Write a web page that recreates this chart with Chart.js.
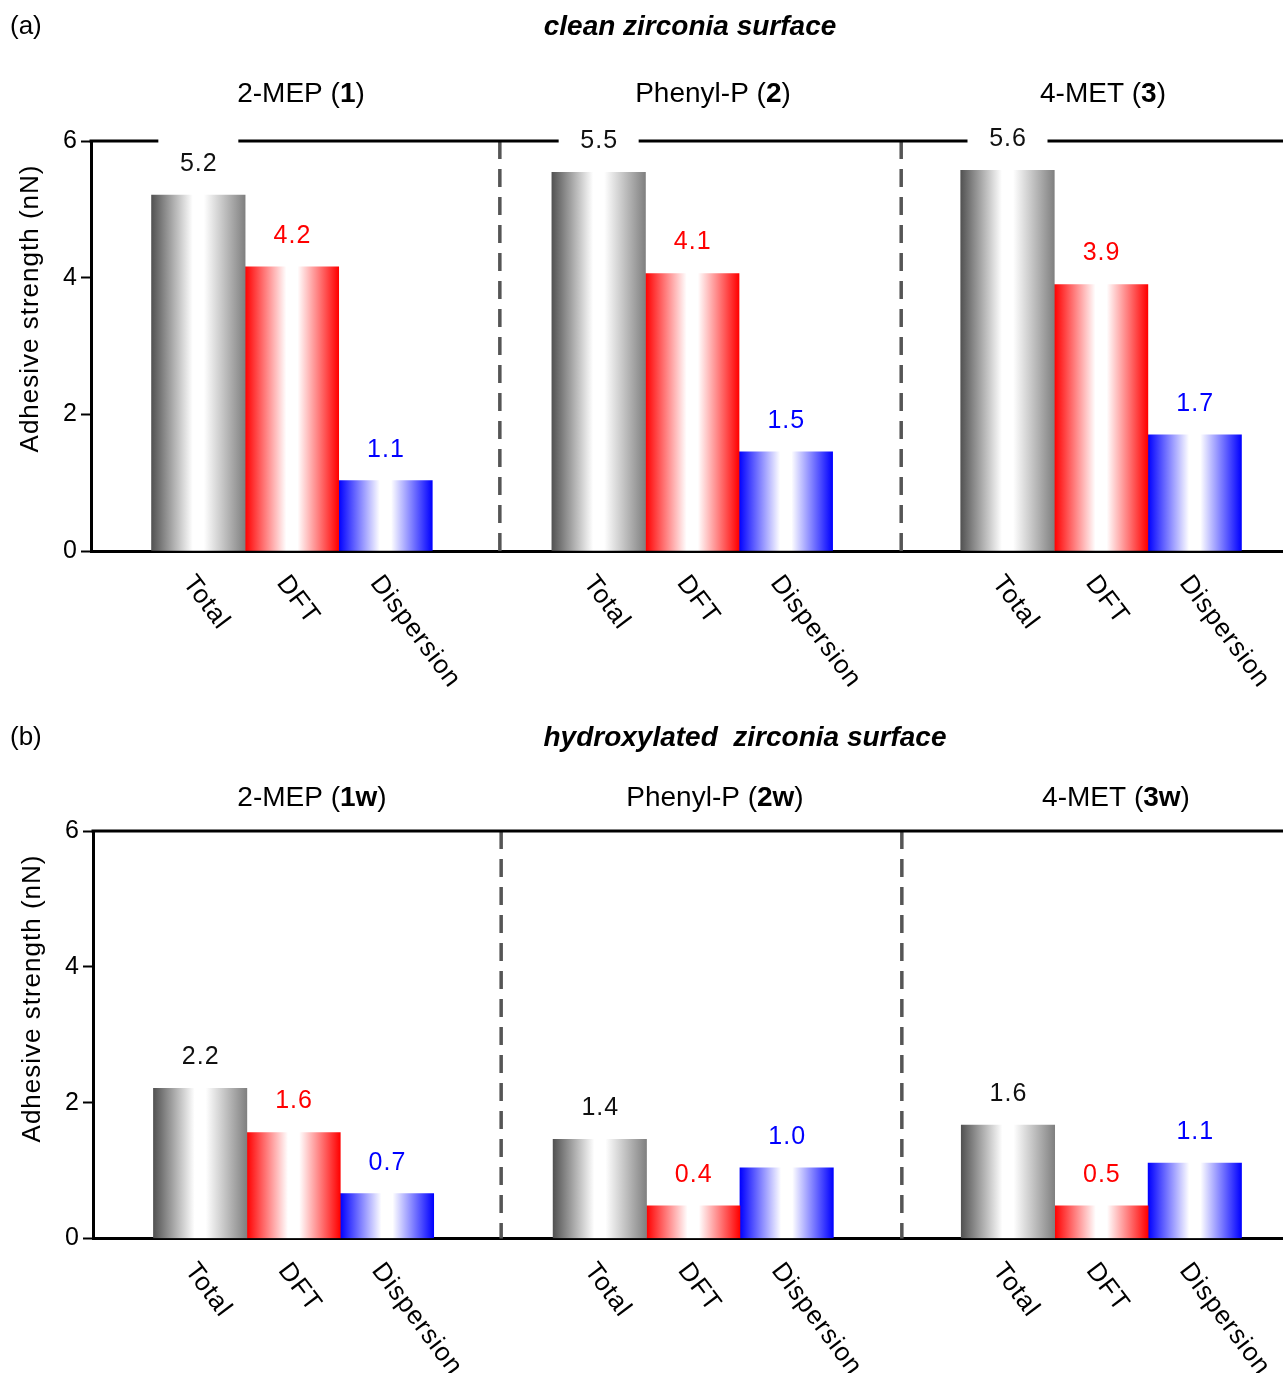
<!DOCTYPE html>
<html><head><meta charset="utf-8">
<script src="https://cdn.jsdelivr.net/npm/chart.js@4.4.1/dist/chart.umd.min.js"></script>
<style>
html,body{margin:0;padding:0;background:#fff;}
#wrap{position:relative;width:1283px;height:1373px;overflow:hidden;}
canvas{display:block;}
</style></head><body>
<div id="wrap">
<canvas id="cA" width="1283" height="700"></canvas>
<canvas id="cB" width="1283" height="673"></canvas>
</div>
<script>
// ---------------- data ----------------
const groups = ['2-MEP', 'Phenyl-P', '4-MET'];
const seriesNames = ['Total', 'DFT', 'Dispersion'];
const cleanIds = ['1', '2', '3'];
const hydIds = ['1w', '2w', '3w'];

const cleanTotal = [5.21, 5.54, 5.57];
const cleanDFT = [4.16, 4.06, 3.90];
const cleanDisp = [1.03, 1.45, 1.70];
const cleanTotalText = ['5.2', '5.5', '5.6'];
const cleanDFTText = ['4.2', '4.1', '3.9'];
const cleanDispText = ['1.1', '1.5', '1.7'];

const hydTotal = [2.21, 1.46, 1.67];
const hydDFT = [1.56, 0.48, 0.48];
const hydDisp = [0.66, 1.04, 1.11];
const hydTotalText = ['2.2', '1.4', '1.6'];
const hydDFTText = ['1.6', '0.4', '0.5'];
const hydDispText = ['0.7', '1.0', '1.1'];

const yTicks = [0, 2, 4, 6];

// ---------------- layout / style ----------------
const FONT = "'Liberation Sans', Arial, Helvetica, sans-serif";
const X_MAX = 12.738;                    // x scale in bar-width units
const GROUP_FIRST = [1.147, 5.425, 9.794]; // first bar centre of each group
const SEPARATORS = [4.369, 8.658];
const GRADS = [
  ['#525252', '#ffffff', '#ffffff', '#808080'],
  ['#ff0000', '#ffffff', '#ffffff', '#ff0000'],
  ['#0000ff', '#ffffff', '#ffffff', '#0000ff']
];
const GRAD_POS = [0, 0.44, 0.56, 1];
const LABEL_COLORS = ['#111111', '#ff0000', '#0000ff'];

const panels = [
  { id: 'cA', tag: '(a)', title: 'clean zirconia surface', ids: cleanIds,
    values: [cleanTotal, cleanDFT, cleanDisp], texts: [cleanTotalText, cleanDFTText, cleanDispText],
    axisLeft: 91, padTop: 141, padBottom: 149, tagY: 27, titleX: 690, titleY: 27,
    headX: [301, 713, 1103], headY: 94, gapTop: true },
  { id: 'cB', tag: '(b)', title: 'hydroxylated  zirconia surface', ids: hydIds,
    values: [hydTotal, hydDFT, hydDisp], texts: [hydTotalText, hydDFTText, hydDispText],
    axisLeft: 93, padTop: 131, padBottom: 134.5, tagY: 38, titleX: 745, titleY: 38,
    headX: [312, 715, 1116], headY: 98, gapTop: false }
];

function barX(g, s) { return GROUP_FIRST[g] + s; }

function gradFor(s) {
  return (ctx) => {
    const chart = ctx.chart;
    const xs = chart.scales && chart.scales.x;
    if (!chart.chartArea || !xs || ctx.type !== 'data') return GRADS[s][0];
    const cx = xs.getPixelForValue(ctx.parsed.x);
    const w = xs.getPixelForValue(1) - xs.getPixelForValue(0);
    const g = chart.ctx.createLinearGradient(cx - w / 2, 0, cx + w / 2, 0);
    GRAD_POS.forEach((p, i) => g.addColorStop(p, GRADS[s][i]));
    return g;
  };
}

const decorPlugin = {
  id: 'decor',
  beforeDraw(chart) { chart.ctx.letterSpacing = '1px'; },
  beforeDatasetsDraw(chart, args, opts) {
    const p = opts.panel; const ctx = chart.ctx; const ca = chart.chartArea; const xs = chart.scales.x;
    ctx.save();
    // dashed separators
    ctx.strokeStyle = '#555555'; ctx.lineWidth = 3.5; ctx.setLineDash([18, 10]);
    SEPARATORS.forEach(v => {
      const x = xs.getPixelForValue(v);
      ctx.beginPath(); ctx.moveTo(x, ca.top); ctx.lineTo(x, ca.bottom); ctx.stroke();
    });
    ctx.setLineDash([]);
    // top frame line (with gaps behind the Total labels in panel a)
    ctx.strokeStyle = '#000'; ctx.lineWidth = 3;
    const segs = [];
    let start = ca.left - 1.5;
    if (p.gapTop) {
      groups.forEach((g, i) => {
        const cx = xs.getPixelForValue(barX(i, 0));
        segs.push([start, cx - 40]); start = cx + 40;
      });
    }
    segs.push([start, ca.right]);
    segs.forEach(([a, b]) => { ctx.beginPath(); ctx.moveTo(a, ca.top); ctx.lineTo(b, ca.top); ctx.stroke(); });
    ctx.restore();
  },
  afterDatasetsDraw(chart, args, opts) {
    const p = opts.panel; const ctx = chart.ctx; const ca = chart.chartArea;
    ctx.save();
    // value labels
    ctx.font = `25px ${FONT}`; ctx.letterSpacing = '1px';
    ctx.textAlign = 'center'; ctx.textBaseline = 'middle';
    chart.data.datasets.forEach((ds, s) => {
      const meta = chart.getDatasetMeta(s);
      meta.data.forEach((el, i) => {
        ctx.fillStyle = LABEL_COLORS[s];
        ctx.fillText(p.texts[s][i], el.x + 0.5, el.y - 31);
      });
    });
    // rotated category labels
    ctx.fillStyle = '#000'; ctx.textAlign = 'left'; ctx.textBaseline = 'alphabetic';
    ctx.font = `26px ${FONT}`; ctx.letterSpacing = '1px';
    chart.data.datasets.forEach((ds, s) => {
      const meta = chart.getDatasetMeta(s);
      meta.data.forEach((el) => {
        ctx.save();
        ctx.translate(el.x - 16, ca.bottom + 32);
        ctx.rotate(53 * Math.PI / 180);
        ctx.fillText(seriesNames[s], 0, 0);
        ctx.restore();
      });
    });
    // y-axis title
    ctx.save();
    ctx.translate(p.axisLeft - 60, ca.top + 167.5);
    ctx.rotate(-Math.PI / 2);
    ctx.textAlign = 'center'; ctx.textBaseline = 'middle';
    ctx.font = `26px ${FONT}`; ctx.letterSpacing = '1px';
    ctx.fillText('Adhesive strength (nN)', 0, 0);
    ctx.restore();
    // panel tag and title
    ctx.letterSpacing = '0px';
    ctx.textBaseline = 'middle';
    ctx.font = `26px ${FONT}`; ctx.textAlign = 'left';
    ctx.fillText(p.tag, 10, p.tagY);
    ctx.font = `italic bold 28px ${FONT}`; ctx.textAlign = 'center';
    ctx.fillText(p.title, p.titleX, p.titleY);
    // group headings with bold compound number
    groups.forEach((g, i) => {
      const parts = [[g + ' (', false], [p.ids[i], true], [')', false]];
      let w = 0;
      parts.forEach(([t, b]) => { ctx.font = `${b ? 'bold ' : ''}28px ${FONT}`; w += ctx.measureText(t).width; });
      let x = p.headX[i] - w / 2;
      ctx.textAlign = 'left';
      parts.forEach(([t, b]) => {
        ctx.font = `${b ? 'bold ' : ''}28px ${FONT}`;
        ctx.fillText(t, x, p.headY);
        x += ctx.measureText(t).width;
      });
    });
    ctx.restore();
  }
};

panels.forEach(p => {
  const datasets = seriesNames.map((name, s) => ({
    label: name,
    data: groups.map((g, i) => ({ x: barX(i, s), y: p.values[s][i] })),
    backgroundColor: gradFor(s),
    borderWidth: 0,
    grouped: false,
    barPercentage: 1,
    categoryPercentage: 1
  }));
  new Chart(document.getElementById(p.id), {
    type: 'bar',
    data: { datasets },
    plugins: [decorPlugin],
    options: {
      responsive: false,
      animation: false,
      events: [],
      layout: { padding: { top: p.padTop, bottom: p.padBottom, left: 0, right: 0 } },
      plugins: { legend: { display: false }, tooltip: { enabled: false }, decor: { panel: p } },
      scales: {
        x: {
          type: 'linear', min: 0, max: X_MAX, offset: false,
          grid: { display: false, drawTicks: false },
          border: { display: true, color: '#000', width: 3 },
          ticks: { display: false },
          afterBuildTicks: (sc) => { sc.ticks = seriesNames.flatMap((n, s) => groups.map((g, i) => ({ value: barX(i, s) }))).sort((a, b) => a.value - b.value); },
          afterFit: (sc) => { sc.height = 0; }
        },
        y: {
          min: 0, max: 6,
          afterBuildTicks: (sc) => { sc.ticks = yTicks.map(v => ({ value: v })); },
          ticks: { color: '#000', font: { family: FONT, size: 25 }, padding: 3 },
          grid: { display: true, drawOnChartArea: false, drawTicks: true, tickLength: 10, tickWidth: 2, tickColor: '#000' },
          border: { display: true, color: '#000', width: 3 },
          afterFit: (sc) => { sc.width = p.axisLeft; }
        }
      }
    }
  });
});
</script>
</body></html>
